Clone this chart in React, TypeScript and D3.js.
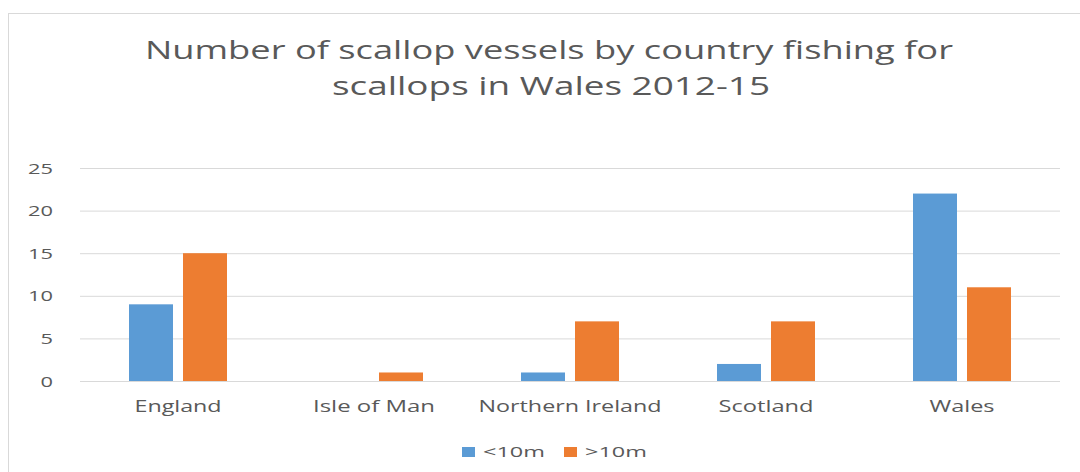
import React from "react";
import * as d3 from "d3";

const categories = ["England", "Isle of Man", "Northern Ireland", "Scotland", "Wales"];
const seriesNames = ["<10m", ">10m"];
const under10 = [9, 0, 1, 2, 22];
const over10 = [15, 1, 7, 7, 11];
const yTicks = [0, 5, 10, 15, 20, 25];
const titleLines = ["Number of scallop vessels by country fishing for", "scallops in Wales 2012-15"];

const colors = ["#5B9BD5", "#ED7D31"];
const textColor = "#595959";
const font = "'Open Sans', 'Noto Sans', sans-serif";
const labelWidths: Record<string, number> = {
  "England": 87,
  "Isle of Man": 122,
  "Northern Ireland": 183,
  "Scotland": 95,
  "Wales": 65,
};

export default function App() {
  const W = 1080, H = 472;
  const x0 = d3.scaleBand<string>().domain(categories).range([80, 1060]).paddingInner(0.5).paddingOuter(0.25);
  const x1 = d3.scaleBand<string>().domain(seriesNames).range([0, x0.bandwidth()]).paddingInner(0.1852).paddingOuter(0);
  const y = d3.scaleLinear().domain([0, 25]).range([381, 168]);
  const series = [under10, over10];

  return (
    <svg width={W} height={H} style={{ position: "absolute", left: 0, top: 0, background: "#fff" }} fontFamily={font}>
      <rect x={0} y={0} width={W} height={H} fill="#fff" />
      <rect x={8.5} y={13.5} width={W + 20} height={H + 20} fill="#fff" stroke="#d9d9d9" strokeWidth={1} />
      <text x={549} y={59} fontSize={26} fill={textColor} textAnchor="middle" textLength={808} lengthAdjust="spacingAndGlyphs">{titleLines[0]}</text>
      <text x={551} y={95} fontSize={26} fill={textColor} textAnchor="middle" textLength={438} lengthAdjust="spacingAndGlyphs">{titleLines[1]}</text>
      {yTicks.map((t) => (
        <g key={t}>
          <line x1={80} x2={1060} y1={y(t) + 0.5} y2={y(t) + 0.5} stroke="#d9d9d9" strokeWidth={1} />
          <text x={53} y={y(t) + 5.5} fontSize={15} fill={textColor} textAnchor="end" textLength={12.5 * String(t).length} lengthAdjust="spacingAndGlyphs">{t}</text>
        </g>
      ))}
      {categories.map((c, i) => (
        <g key={c} transform={`translate(${x0(c)},0)`}>
          {series.map((s, j) =>
            s[i] > 0 ? (
              <rect key={j} x={x1(seriesNames[j])} y={y(s[i])} width={x1.bandwidth()} height={y(0) - y(s[i])} fill={colors[j]} />
            ) : null
          )}
        </g>
      ))}
      {categories.map((c) => (
        <text key={c} x={(x0(c) as number) + x0.bandwidth() / 2} y={412} fontSize={16} fill={textColor} textAnchor="middle" textLength={labelWidths[c]} lengthAdjust="spacingAndGlyphs">{c}</text>
      ))}
      {seriesNames.map((n, j) => (
        <g key={n} transform={`translate(${462 + j * 102},0)`}>
          <rect x={0} y={447} width={13} height={10} fill={colors[j]} />
          <text x={21} y={457} fontSize={15} fill={textColor} textLength={62} lengthAdjust="spacingAndGlyphs">{n}</text>
        </g>
      ))}
    </svg>
  );
}
